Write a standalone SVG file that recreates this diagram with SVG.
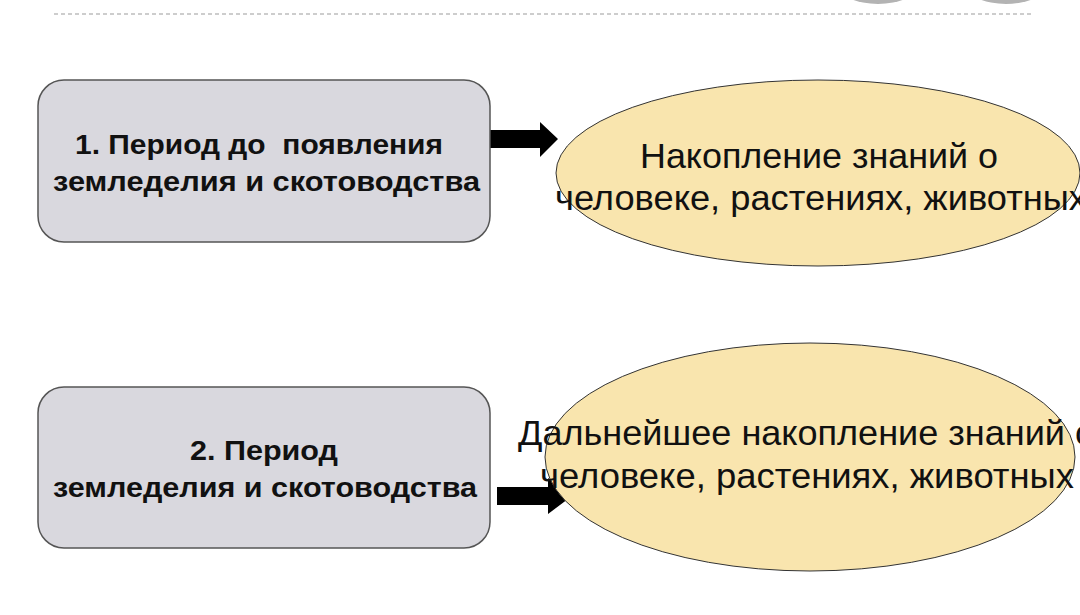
<svg xmlns="http://www.w3.org/2000/svg" width="1080" height="615" viewBox="0 0 1080 615">
<style>
.box{fill:#d9d8de;stroke:#555;stroke-width:1.5}
.ell{fill:#f9e5ae;stroke:#333;stroke-width:1}
.bt{font-family:"Liberation Sans",Arial,sans-serif;font-weight:bold;font-size:28px;fill:#111}
.et{font-family:"Liberation Sans",Arial,sans-serif;font-size:35px;fill:#111}
.arr{fill:#000}
</style>
<rect width="1080" height="615" fill="#fff"/>
<g id="decor">
<circle cx="878" cy="-73" r="77" fill="#b3b3b3"/>
<circle cx="1006" cy="-73" r="77" fill="#b3b3b3"/>
<line x1="54" y1="14" x2="1034" y2="14" stroke="#bdbdbd" stroke-width="1.5" stroke-dasharray="4 3"/>
</g>
<g id="connectors">
<polygon class="arr" points="490,130 540,130 540,122 558,139 540,157 540,148 490,148"/>
<polygon class="arr" points="497,487 548,487 548,478 572,496 548,514 548,505 497,505"/>
</g>
<g id="node1">
<rect class="box" x="38" y="80" width="452" height="162" rx="26"/>
<text class="bt" x="75" y="154" textLength="368" lengthAdjust="spacingAndGlyphs" xml:space="preserve">1. Период до  появления</text>
<text class="bt" x="53" y="191" textLength="427" lengthAdjust="spacingAndGlyphs">земледелия и скотоводства</text>
</g>
<g id="node2">
<rect class="box" x="38" y="387" width="452" height="161" rx="26"/>
<text class="bt" x="190" y="460" textLength="148" lengthAdjust="spacingAndGlyphs">2. Период</text>
<text class="bt" x="53" y="497" textLength="424" lengthAdjust="spacingAndGlyphs">земледелия и скотоводства</text>
</g>
<g id="node3">
<ellipse class="ell" cx="818" cy="173" rx="262" ry="93"/>
<text class="et" x="640" y="168" textLength="358" lengthAdjust="spacingAndGlyphs">Накопление знаний о</text>
<text class="et" x="555" y="210" textLength="532" lengthAdjust="spacingAndGlyphs">человеке, растениях, животных</text>
</g>
<g id="node4">
<ellipse class="ell" cx="810" cy="457" rx="265" ry="114"/>
<text class="et" x="518" y="445" textLength="577" lengthAdjust="spacingAndGlyphs">Дальнейшее накопление знаний о</text>
<text class="et" x="540" y="488" textLength="534" lengthAdjust="spacingAndGlyphs">человеке, растениях, животных</text>
</g>
</svg>
